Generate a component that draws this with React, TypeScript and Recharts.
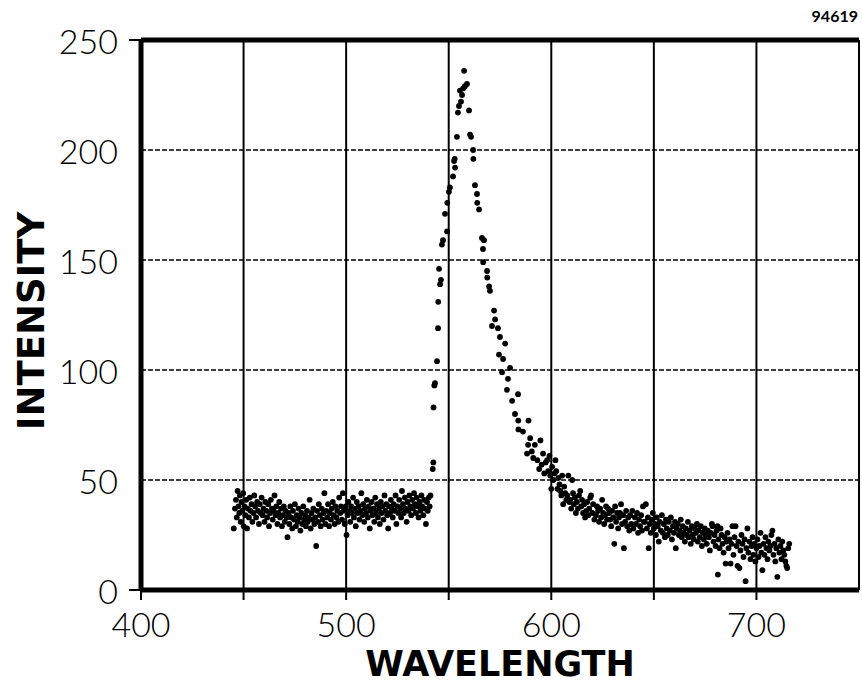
import React from 'react';
import { ScatterChart, Scatter, XAxis, YAxis, CartesianGrid, ReferenceLine } from 'recharts';

// readings: [wavelength, intensity]
const baseline: [number, number][] = [
  [445.2, 28], [445.8, 37], [446.3, 41], [446.7, 33], [447.1, 45], [447.5, 38], [447.9, 35], [448.2, 43], [448.6, 31], [449.0, 40],
  [449.4, 36], [449.8, 44], [450.1, 29], [450.5, 38], [450.9, 34], [451.3, 41], [451.7, 28], [452.1, 37], [452.6, 33], [453.0, 42],
  [453.4, 36], [453.9, 39], [454.3, 31], [454.8, 35], [455.2, 43], [455.7, 38], [456.1, 33], [456.6, 40], [457.0, 36], [457.5, 30],
  [457.9, 39], [458.4, 35], [458.8, 42], [459.3, 34], [459.7, 37], [460.2, 31], [460.6, 40], [461.1, 36], [461.5, 33], [462.0, 39],
  [462.4, 29], [462.9, 35], [463.3, 41], [463.8, 37], [464.2, 32], [464.7, 36], [465.1, 43], [465.6, 34], [466.0, 38], [466.5, 30],
  [466.9, 35], [467.4, 40], [467.8, 33], [468.3, 37], [468.7, 29], [469.2, 34], [469.6, 38], [470.1, 31], [470.5, 36], [471.0, 33],
  [471.4, 24], [471.9, 35], [472.3, 30], [472.8, 38], [473.2, 33], [473.7, 28], [474.1, 36], [474.6, 32], [475.0, 39], [475.5, 29],
  [475.9, 34], [476.4, 31], [476.8, 37], [477.3, 33], [477.7, 27], [478.2, 35], [478.6, 30], [479.1, 38], [479.5, 32], [480.0, 34],
  [480.4, 29], [480.9, 36], [481.3, 31], [481.8, 33], [482.2, 41], [482.7, 28], [483.1, 35], [483.6, 32], [484.0, 37], [484.5, 30],
  [484.9, 33], [485.4, 20], [485.8, 36], [486.3, 31], [486.7, 39], [487.2, 34], [487.6, 29], [488.1, 37], [488.5, 32], [489.0, 35],
  [489.4, 44], [489.9, 30], [490.3, 36], [490.8, 33], [491.2, 39], [491.7, 29], [492.1, 35], [492.6, 32], [493.0, 37], [493.5, 40],
  [493.9, 34], [494.4, 30], [494.8, 38], [495.3, 33], [495.7, 36], [496.2, 31], [496.6, 42], [497.1, 35], [497.5, 38], [498.0, 32],
  [498.4, 44], [498.9, 36], [499.3, 30], [499.8, 38], [500.2, 25], [500.7, 34], [501.1, 40], [501.6, 36], [502.0, 31], [502.5, 38],
  [502.9, 35], [503.4, 42], [503.8, 33], [504.3, 37], [504.7, 29], [505.2, 40], [505.6, 35], [506.1, 38], [506.5, 32], [507.0, 36],
  [507.4, 44], [507.9, 34], [508.3, 39], [508.8, 31], [509.2, 37], [509.7, 35], [510.1, 41], [510.6, 33], [511.0, 38], [511.5, 28],
  [511.9, 36], [512.4, 40], [512.8, 34], [513.3, 37], [513.7, 31], [514.2, 42], [514.6, 35], [515.1, 39], [515.5, 33], [516.0, 37],
  [516.4, 30], [516.9, 40], [517.3, 35], [517.8, 38], [518.2, 32], [518.7, 43], [519.1, 36], [519.6, 39], [520.0, 34], [520.5, 28],
  [520.9, 38], [521.4, 35], [521.8, 41], [522.3, 37], [522.7, 33], [523.2, 39], [523.6, 36], [524.1, 43], [524.5, 30], [525.0, 38],
  [525.4, 35], [525.9, 41], [526.3, 37], [526.8, 33], [527.2, 45], [527.7, 39], [528.1, 35], [528.6, 42], [529.0, 37], [529.5, 31],
  [529.9, 40], [530.4, 36], [530.8, 43], [531.3, 38], [531.7, 34], [532.2, 41], [532.6, 37], [533.1, 44], [533.5, 39], [534.0, 35],
  [534.4, 42], [534.9, 38], [535.3, 33], [535.8, 40], [536.2, 36], [536.7, 43], [537.1, 38], [537.6, 34], [538.0, 41], [538.5, 37],
  [538.9, 30], [539.4, 40], [539.8, 36], [540.3, 42], [540.7, 38], [541.1, 43],
];

const peak: [number, number][] = [
  [542.2, 55], [542.5, 58], [542.6, 83], [543.0, 93], [543.3, 94], [544.3, 104], [544.8, 119], [544.9, 131], [545.3, 146], [545.8, 139],
  [546.2, 141], [546.7, 157], [547.2, 159], [548.2, 171], [549.2, 163], [549.3, 176], [550.1, 181], [550.6, 183], [552.1, 188], [552.6, 195],
  [552.9, 196], [553.1, 192], [554.0, 206], [554.5, 217], [555.0, 220], [555.5, 227], [556.0, 222], [556.5, 225], [557.0, 228], [557.5, 236],
  [557.9, 229], [558.9, 230], [559.9, 218], [560.4, 207], [560.9, 206], [561.9, 200], [562.0, 196], [562.8, 184], [563.8, 180], [563.9, 176],
  [564.8, 173], [566.2, 160], [566.7, 155], [567.2, 159], [566.8, 149], [568.7, 145], [568.8, 142], [569.7, 138], [570.1, 136], [571.1, 120],
  [572.1, 127], [572.6, 123], [574.0, 119], [574.5, 107], [575.0, 115], [576.0, 99], [576.5, 105], [577.5, 112], [578.4, 91], [578.9, 96],
  [579.9, 101], [580.9, 86], [582.3, 80], [583.8, 89], [583.9, 77], [584.0, 73], [586.2, 72], [588.2, 62], [588.7, 66], [588.9, 77],
  [589.7, 69],
];

const tail: [number, number][] = [
  [590.5, 63], [591.2, 60], [592.0, 66], [593.2, 59], [594.1, 55], [594.7, 68], [595.3, 57], [596.0, 62], [596.6, 53], [597.3, 58],
  [598.0, 59], [598.5, 54], [599.1, 61], [599.5, 52], [600.0, 46], [600.4, 56], [601.0, 50], [601.6, 53], [602.0, 59], [602.4, 54],
  [603.0, 46], [603.5, 51], [604.0, 48], [604.4, 45], [604.9, 43], [605.3, 52], [605.8, 39], [606.3, 47], [606.8, 44], [607.3, 41],
  [607.8, 43], [608.3, 52], [608.8, 40], [609.2, 41], [609.7, 37], [610.2, 50], [610.6, 44], [611.0, 39], [611.5, 42], [612.0, 35],
  [612.5, 40], [613.0, 37], [613.5, 43], [614.1, 45], [614.6, 38], [615.0, 41], [615.5, 35], [616.0, 39], [616.5, 33], [617.0, 36],
  [617.5, 40], [618.0, 34], [618.5, 37], [619.0, 42], [619.4, 43], [620.0, 35], [620.4, 39], [621.0, 32], [621.8, 34], [622.3, 38],
  [622.8, 36], [623.3, 31], [623.8, 37], [624.3, 33], [624.8, 41], [625.3, 35], [625.8, 30], [626.2, 34], [626.7, 38], [627.2, 32],
  [627.7, 37], [628.2, 35], [628.7, 32], [629.2, 29], [629.7, 36], [630.2, 33], [630.7, 21], [631.1, 38], [631.6, 31], [632.1, 35],
  [632.6, 28], [633.0, 33], [633.5, 35], [634.0, 39], [634.5, 30], [635.0, 34], [635.4, 19], [636.0, 31], [636.5, 36], [637.0, 29],
  [637.5, 33], [638.0, 27], [638.5, 34], [639.0, 30], [639.5, 36], [640.0, 28], [640.8, 33], [641.3, 30], [641.8, 35], [642.3, 26],
  [642.8, 32], [643.3, 29], [643.8, 34], [644.2, 27], [644.7, 38], [645.2, 31], [645.6, 31], [646.1, 39], [646.6, 28], [647.1, 33],
  [647.5, 19], [648.0, 30], [648.5, 26], [649.0, 32], [649.5, 35], [650.0, 28], [650.5, 30], [651.0, 25], [651.4, 33], [651.9, 29],
  [652.4, 22], [652.9, 31], [653.4, 27], [653.9, 34], [654.4, 26], [654.9, 30], [655.4, 24], [655.9, 32], [656.3, 28], [656.8, 25],
  [657.3, 31], [657.8, 27], [658.3, 33], [658.8, 23], [659.3, 29], [659.8, 26], [660.3, 31], [660.7, 19], [661.2, 28], [661.7, 30],
  [662.2, 25], [662.7, 27], [663.1, 32], [663.6, 24], [664.1, 29], [664.6, 26], [665.1, 22], [665.6, 28], [666.1, 25], [666.6, 31],
  [667.0, 24], [667.5, 27], [668.0, 21], [668.5, 29], [669.0, 25], [669.5, 23], [670.0, 28], [670.5, 26], [671.0, 30], [671.4, 22],
  [671.9, 27], [672.4, 24], [672.9, 29], [673.4, 20], [673.9, 26], [674.4, 23], [674.8, 28], [675.3, 25], [675.8, 21], [676.3, 27],
  [676.8, 24], [677.3, 18], [677.8, 26], [678.3, 30], [678.6, 29], [679.1, 22], [679.6, 25], [680.1, 20], [680.6, 27], [681.0, 29],
  [681.2, 7], [681.5, 23], [682.0, 19], [682.5, 28], [683.0, 25], [683.5, 21], [684.0, 17], [684.5, 24], [685.0, 12], [685.4, 22],
  [685.9, 26], [686.4, 19], [686.9, 23], [687.4, 12], [687.9, 21], [688.3, 29], [688.8, 16], [689.3, 24], [689.8, 29], [690.3, 20],
  [690.8, 11], [691.2, 22], [691.7, 10], [692.2, 18], [692.7, 25], [693.2, 21], [693.7, 15], [694.2, 23], [694.7, 4], [695.1, 19],
  [695.6, 28], [696.1, 17], [696.6, 22], [697.1, 14], [697.6, 20], [698.1, 24], [698.5, 16], [699.0, 21], [699.5, 13], [700.0, 19],
  [700.5, 23], [701.0, 15], [701.5, 20], [702.0, 26], [702.4, 17], [702.9, 9], [703.4, 21], [703.9, 16], [704.4, 24], [704.9, 19],
  [705.4, 14], [705.8, 22], [706.3, 18], [706.8, 20], [707.3, 25], [707.8, 27], [708.3, 16], [708.8, 21], [709.2, 13], [709.7, 19],
  [710.2, 6], [710.7, 23], [711.2, 17], [711.7, 20], [712.2, 14], [712.6, 22], [713.1, 18], [713.6, 16], [714.1, 13], [714.6, 11],
  [715.0, 10], [715.5, 19], [716.0, 21],
];

const xTicks = [400, 450, 500, 550, 600, 650, 700];
const yTicks = [0, 50, 100, 150, 200, 250];

const toPoints = (rows: [number, number][]) => rows.map(([w, i]) => ({ w, i }));

const Dot = (props: any) => <circle cx={props.cx} cy={props.cy} r={2.9} fill="#000" />;

const tickFont = { fontFamily: 'Lato, "Open Sans", sans-serif', fontWeight: 300, fontSize: 34, fill: '#000' };

const YTick = (props: any) => {
  const { x, y, payload } = props;
  const v = payload.value;
  return (
    <g>
      {(v === 0 || v === 250) && <line x1={x + 11} x2={x + 23} y1={y} y2={y} stroke="#000" strokeWidth={2} />}
      <text x={x} y={y} textAnchor="end" dominantBaseline="central" {...tickFont}>{v}</text>
    </g>
  );
};

export default function App() {
  return (
    <div style={{ position: 'absolute', left: 0, top: 0, width: 862, height: 685, background: '#fff' }}>
      <ScatterChart width={862} height={685} margin={{ top: 40, right: 3, bottom: 35, left: 71 }}>
        <CartesianGrid horizontal={false} stroke="#000" strokeWidth={2} />
        <CartesianGrid vertical={false} stroke="#000" strokeWidth={1.4} strokeDasharray="5 2" />
        <XAxis
          type="number"
          dataKey="w"
          domain={[400, 750]}
          ticks={xTicks}
          allowDataOverflow
          height={60}
          axisLine={{ stroke: '#000', strokeWidth: 5 }}
          tickLine={{ stroke: '#000', strokeWidth: 2 }}
          tickSize={10}
          tickMargin={13}
          tick={tickFont}
          tickFormatter={(v: number) => (v % 100 === 0 ? String(v) : '')}
        />
        <YAxis
          type="number"
          dataKey="i"
          domain={[0, 250]}
          ticks={yTicks}
          allowDataOverflow
          width={70}
          axisLine={{ stroke: '#000', strokeWidth: 5 }}
          tickLine={false}
          tickSize={0}
          tickMargin={23}
          tick={<YTick />}
        />
        <ReferenceLine y={250} stroke="#000" strokeWidth={5} />
        <ReferenceLine x={750} stroke="#000" strokeWidth={1} strokeDasharray="6 3" />
        <Scatter data={toPoints(baseline)} shape={<Dot />} isAnimationActive={false} />
        <Scatter data={toPoints(peak)} shape={<Dot />} isAnimationActive={false} />
        <Scatter data={toPoints(tail)} shape={<Dot />} isAnimationActive={false} />
      </ScatterChart>
      <svg width={862} height={685} style={{ position: 'absolute', left: 0, top: 0, pointerEvents: 'none' }}>
        <text x={858} y={22} textAnchor="end" fontFamily="Lato, sans-serif" fontWeight={700} fontSize={16} fill="#000">94619</text>
        <text x={500} y={676} textAnchor="middle" fontFamily='"DejaVu Sans", sans-serif' fontWeight={700} fontSize={35} fill="#000">WAVELENGTH</text>
        <text x={44} y={321} textAnchor="middle" transform="rotate(-90 44 321)" fontFamily='"DejaVu Sans", sans-serif' fontWeight={700} fontSize={37} fill="#000">INTENSITY</text>
      </svg>
    </div>
  );
}
